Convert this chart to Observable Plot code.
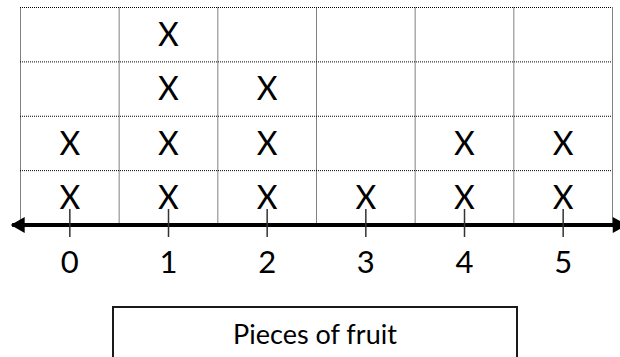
<!DOCTYPE html>
<html>
<head>
<meta charset="utf-8">
<script src="https://cdn.jsdelivr.net/npm/d3@7"></script>
<script src="https://cdn.jsdelivr.net/npm/@observablehq/plot@0.6"></script>
<style>
  html, body { margin: 0; padding: 0; background: #fff; overflow: hidden; }
  #chart { width: 620px; }
  .caption {
    margin-top: 6px;
    margin-left: 112px;
    width: 402px;
    height: 60px;
    border: 2px solid #1a1a1a;
    border-bottom: none;
    font-family: Lato, sans-serif;
    font-size: 27px;
    line-height: 30px;
    padding-top: 11px;
    text-align: center;
    color: #000;
    box-sizing: content-box;
  }
</style>
</head>
<body>
<div id="chart"></div>
<script>
// Data: number of X marks per value
const values = [0, 1, 2, 3, 4, 5];
const counts = [2, 4, 3, 1, 2, 2];
const tickLabels = ["0", "1", "2", "3", "4", "5"];
const rows = [1, 2, 3, 4];
const xLabel = "Pieces of fruit";

// one record per X mark
const marks = values.flatMap((v, i) => d3.range(1, counts[i] + 1).map(r => ({value: v, row: r})));

// grid boundaries (cells centred on values/rows)
const colEdges = d3.range(values.length + 1).map(i => values[0] - 0.5 + i);
const rowEdges = d3.range(rows.length + 1).map(i => rows[0] - 0.5 + i);

// number-line decoration extents (in scale units)
const lineExtent = [-0.58, 5.62];
const arrowCenters = [{x: -0.505, rot: -90}, {x: 5.55, rot: 90}];
const axisY = 0.5;
const tickSpan = [0.27, 0.785];
const labelY = -0.2;

const plot = Plot.plot({
  width: 620,
  height: 300,
  margin: 0,
  x: {domain: [-0.5, 5.5], range: [20, 612], axis: null},
  y: {domain: [0.5, 4.5], range: [224.5, 7], axis: null},
  marks: [
    // dotted grid
    Plot.ruleX(colEdges, {y1: rowEdges[0], y2: rowEdges[rowEdges.length - 1], stroke: "#000", strokeWidth: 1, strokeDasharray: "1,1"}),
    Plot.ruleY(rowEdges, {x1: colEdges[0], x2: colEdges[colEdges.length - 1], stroke: "#000", strokeWidth: 1, strokeDasharray: "1,1"}),
    // X marks
    Plot.text(marks, {x: "value", y: "row", text: () => "X", fontSize: 32, fontFamily: "Lato, sans-serif", fill: "#000", dy: 1}),
    // number line
    Plot.ruleY([axisY], {x1: lineExtent[0], x2: lineExtent[1], stroke: "#000", strokeWidth: 4}),
    Plot.dot(arrowCenters, {x: "x", y: axisY, symbol: "triangle", r: 6, fill: "#000", stroke: "none", rotate: "rot"}),
    // ticks
    Plot.ruleX(values, {y1: tickSpan[0], y2: tickSpan[1], stroke: "#333", strokeWidth: 1.5}),
    // tick labels
    Plot.text(values, {x: d => d, y: labelY, text: (d, i) => tickLabels[i], fontSize: 31, fontFamily: "Lato, sans-serif", fill: "#000"})
  ]
});
document.getElementById("chart").appendChild(plot);
const cap = document.createElement("div");
cap.className = "caption";
cap.textContent = xLabel;
document.body.appendChild(cap);
</script>
</body>
</html>
